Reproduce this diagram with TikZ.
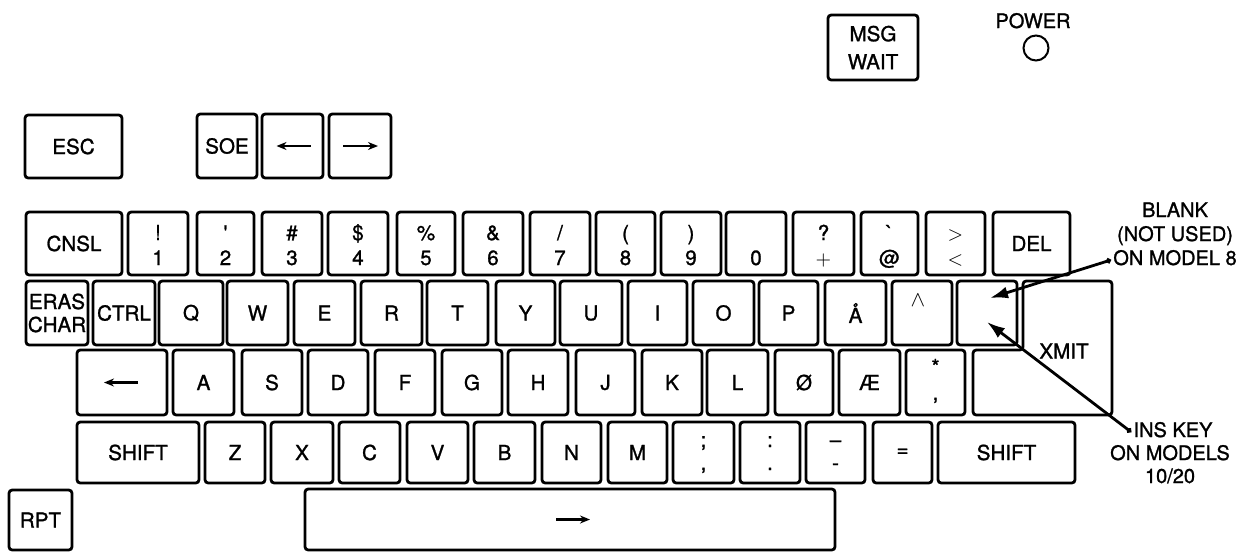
\documentclass[tikz,border=0pt]{standalone}
\usepackage{fontspec}
\setmainfont{TeX Gyre Heros}
\newfontfamily\keyfont{TeX Gyre Heros}[FakeBold=1.2]
\usetikzlibrary{arrows.meta}
\newcommand\kk[6]{\node[keybox, minimum width={(#4-#2)*0.5pt}, minimum height={(#5-#3)*0.5pt}] (#1) at ({(#2+#4)/2},{(#3+#5)/2}) {#6};}
\newcommand\dk[7]{\kk{#1}{#2}{#3}{#4}{#5}{}
  \node[sym] (#1t) at ({(#2+#4)/2},#3+28) {#6};
  \node[sym] (#1b) at ({(#2+#4)/2},#3+53) {#7};}
\newcommand\rk[7]{\kk{#1}{#2}{#3}{#4}{#5}{}
  \node[sym] (#1t) at ({(#2+#4)/2},#3+25) {#6};
  \node[sym] (#1b) at ({(#2+#4)/2},#3+48) {#7};}
\begin{document}
\begin{tikzpicture}[x=0.5pt,y=-0.5pt,
  keybox/.style={draw, line width=1.4pt, rounded corners=1.6pt, inner sep=0pt, align=center,
    font=\keyfont\fontsize{10.3}{11.5}\selectfont},
  sym/.style={anchor=base, inner sep=0pt, font=\keyfont\fontsize{10.3}{11.5}\selectfont},
  note/.style={inner sep=1pt, text height=7pt, text depth=2pt, font=\keyfont\fontsize{10}{12}\selectfont},
  symarrow/.style={line width=1.3pt, -{Stealth[length=5pt,width=4pt]}},
  callout/.style={line width=1.4pt, {Circle[length=2.6pt]}-{Latex[length=9pt,width=6pt]}}]
\useasboundingbox (0,0) rectangle (1241,552);

% top row
\kk{esc}{25}{115}{122}{178}{ESC}
\kk{soe}{197}{114}{257}{178}{SOE}
\kk{larr}{262}{114}{323}{178}{}
\kk{rarr}{329}{114}{391}{178}{}
\draw[symarrow] ([xshift=9pt]larr.center) -- ([xshift=-8pt]larr.center);
\draw[symarrow] ([xshift=-8.5pt]rarr.center) -- ([xshift=9pt]rarr.center);
\kk{msg}{828}{15}{918}{80}{MSG\\[2.5pt]WAIT}
\node[note] (power) at (1033,23) {POWER};
\node[draw, circle, line width=1pt, minimum size=12.5pt, inner sep=0pt] (led) at (1036,48) {};

% row 1
\kk{cnsl}{26}{212}{122}{275}{CNSL}
\dk{k1}{128}{212}{188}{275}{!}{1}
\dk{k2}{197}{212}{254}{275}{\textquotesingle}{2}
\dk{k3}{262}{212}{322}{275}{\#}{3}
\dk{k4}{328}{212}{388}{275}{\$}{4}
\dk{k5}{397}{212}{455}{275}{\%}{5}
\dk{k6}{463}{212}{523}{275}{\&}{6}
\dk{k7}{530}{212}{590}{275}{/}{7}
\dk{k8}{596}{212}{655}{275}{(}{8}
\dk{k9}{661}{212}{721}{275}{)}{9}
\kk{k0}{726}{212}{786}{275}{}
\node[sym] (k0b) at (756,265) {0};
\dk{kplus}{793}{212}{854}{275}{?}{$+$}
\dk{kat}{861}{212}{918}{275}{\textasciigrave}{@}
\dk{klt}{926}{212}{985}{275}{$>$}{$<$}
\kk{del}{993}{212}{1070}{275}{DEL}

% row 2
\kk{eras}{26}{281}{88}{345}{ERAS\\CHAR}
\kk{ctrl}{93}{281}{155}{345}{CTRL}
\kk{kq}{159}{281}{223}{345}{Q}
\kk{kw}{227}{281}{288}{345}{W}
\kk{ke}{294}{281}{355}{345}{E}
\kk{kr}{361}{281}{422}{345}{R}
\kk{kt}{427}{281}{488}{345}{T}
\kk{ky}{496}{281}{555}{345}{Y}
\kk{ku}{560}{281}{622}{345}{U}
\kk{ki}{628}{281}{687}{345}{I}
\kk{ko}{693}{281}{754}{345}{O}
\kk{kp}{759}{281}{818}{345}{P}
\kk{kaa}{825}{281}{886}{345}{Å}
\kk{kcirc}{892}{281}{952}{345}{}
\node[inner sep=0pt, font=\fontsize{11}{12}\selectfont] (circ) at (918,300) {$\wedge$};
\kk{blank}{957}{281}{1017}{345}{}
\draw[line width=1.4pt, rounded corners=1.6pt] (1023,281) -- (1112,281) -- (1112,415) -- (973,415) -- (973,350) -- (1023,350) -- cycle;
\node[inner sep=0pt, font=\keyfont\fontsize{10.3}{11.5}\selectfont] (xmit) at (1064,351) {XMIT};

% row 3
\kk{bs}{77}{350}{167}{415}{}
\draw[symarrow] ([xshift=8pt]bs.center) -- ([xshift=-9pt]bs.center);
\kk{ka}{173}{350}{234}{415}{A}
\kk{ks}{242}{350}{302}{415}{S}
\kk{kd}{308}{350}{368}{415}{D}
\kk{kf}{375}{350}{435}{415}{F}
\kk{kg}{442}{350}{502}{415}{G}
\kk{kh}{508}{350}{568}{415}{H}
\kk{kj}{576}{350}{635}{415}{J}
\kk{kk}{642}{350}{702}{415}{K}
\kk{kl}{707}{350}{768}{415}{L}
\kk{koe}{775}{350}{833}{415}{Ø}
\kk{kae}{839}{350}{900}{415}{Æ}
\kk{kast}{906}{350}{965}{415}{}
\node[sym] (kastt) at (935.5,374) {*};
\node[sym] (kastb) at (935.5,400) {,};

% row 4
\kk{lshift}{77}{422}{199}{483}{SHIFT}
\kk{kz}{205}{422}{265}{483}{Z}
\kk{kx}{271}{422}{333}{483}{X}
\kk{kc}{339}{422}{400}{483}{C}
\kk{kv}{407}{422}{468}{483}{V}
\kk{kb}{474}{422}{535}{483}{B}
\kk{kn}{542}{422}{601}{483}{N}
\kk{km}{608}{422}{667}{483}{M}
\rk{ksemi}{673}{422}{734}{483}{;}{,}
\rk{kcolon}{740}{422}{800}{483}{:}{.}
\rk{kminus}{806}{422}{865}{483}{\textendash}{-}
\kk{keq}{873}{422}{932}{483}{=}
\kk{rshift}{938}{422}{1075}{483}{SHIFT}

% bottom
\kk{rpt}{9}{490}{72}{550}{RPT}
\kk{space}{305}{489}{835}{550}{}
\draw[symarrow] ([xshift=-7pt]space.center) -- ([xshift=10pt]space.center);

% notes
\node[note] (n1a) at (1175,212) {BLANK};
\node[note] (n1b) at (1175,236) {(NOT USED)};
\node[note] (n1c) at (1175,260) {ON MODEL 8};
\coordinate (tipA) at (990,298);
\draw[callout] (n1c.west) -- (tipA);
\node[note] (n2a) at (1173,432) {INS KEY};
\node[note] (n2b) at (1170,455) {ON MODELS};
\node[note] (n2c) at (1170,478) {10/20};
\coordinate (tipB) at (987,322);
\draw[callout] (n2a.west) -- (tipB);
\end{tikzpicture}
\end{document}
